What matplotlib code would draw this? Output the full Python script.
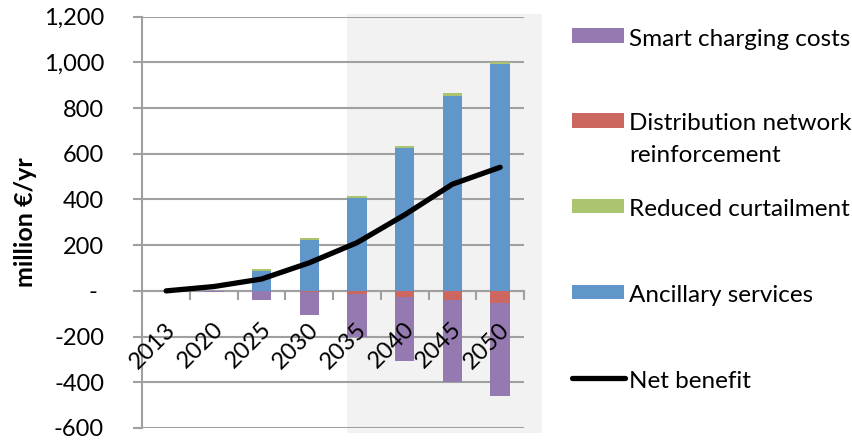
import matplotlib
matplotlib.use('Agg')
import matplotlib.pyplot as plt
import matplotlib.transforms as mtransforms
from matplotlib.patches import Rectangle
from matplotlib.lines import Line2D
import numpy as np

plt.rcParams['font.family'] = ['Lato', 'DejaVu Sans']

# data (million EUR / yr)
years = ['2013', '2020', '2025', '2030', '2035', '2040', '2045', '2050']
ancillary = [0, 0, 88, 224, 408, 627, 855, 995]
curtailment = [0, 0, 6, 7, 7, 9, 11, 8]
distribution = [0, 0, -2, -6, -15, -28, -39, -55]
smart_charging = [0, -5, -40, -99, -186, -278, -358, -406]
net_benefit = [0, 19, 52, 123, 211, 333, 467, 541]

yticks = [-600, -400, -200, 0, 200, 400, 600, 800, 1000, 1200]
ytick_labels = ['-600', '-400', '-200', '- ', '200', '400', '600', '800', '1,000', '1,200']

c_blue = '#6096c9'
c_green = '#abc46f'
c_red = '#cc6661'
c_purple = '#957ab1'
grid_c = '#a0a0a0'
fs = 17

fig = plt.figure(figsize=(8.53, 4.43), dpi=100)
ax = fig.add_axes([0.1668, 0.0339, 0.4475, 0.9284])

x = np.arange(len(years))
w = 0.41

# shaded region behind the later years
trans = mtransforms.blended_transform_factory(ax.transData, ax.transAxes)
ax.add_patch(Rectangle((3.79, -0.012), 4.09, 1.019, transform=trans,
                       facecolor='#f2f2f2', edgecolor='none', clip_on=False, zorder=0.1))

ax.bar(x, ancillary, w, color=c_blue, zorder=2)
ax.bar(x, curtailment, w, bottom=ancillary, color=c_green, zorder=2)
ax.bar(x, distribution, w, color=c_red, zorder=2)
ax.bar(x, smart_charging, w, bottom=distribution, color=c_purple, zorder=2)
ax.plot(x, net_benefit, color='black', lw=3.8, solid_capstyle='round',
        solid_joinstyle='round', zorder=3)

ax.set_xlim(-0.5, len(years) - 0.5)
ax.set_ylim(-600, 1200)
ax.set_yticks(yticks)
ax.set_yticklabels(ytick_labels, fontsize=fs)
ax.set_axisbelow(True)
ax.yaxis.grid(True, color=grid_c, lw=1.5, zorder=0.5)

for s in ['top', 'right']:
    ax.spines[s].set_visible(False)
ax.spines['left'].set_color(grid_c)
ax.spines['left'].set_linewidth(1.5)
ax.spines['bottom'].set_position(('data', 0))
ax.spines['bottom'].set_color(grid_c)
ax.spines['bottom'].set_linewidth(1.5)
ax.spines['bottom'].set_zorder(1)

ax.set_xticks(np.arange(-0.5, len(years), 1))
ax.tick_params(axis='x', direction='out', length=6.5, width=1.5, color=grid_c,
               labelbottom=False)
ax.tick_params(axis='y', direction='out', length=6.5, width=1.5, color=grid_c,
               pad=21, labelcolor='black')

# year labels sitting under the zero line, rotated
for i, yr in enumerate(years):
    ax.text(i - 0.03, -122, yr, rotation=45, ha='right', va='top',
            rotation_mode='anchor', fontsize=fs, zorder=4)

ax.set_ylabel('million €/yr', fontsize=18, fontweight='bold')
ax.yaxis.set_label_coords(-0.276, 0.5)

# legend drawn by hand so the handles line up with the first text line
H = 443.0
Wd = 853.0
def fy(px):
    return 1 - px / H

legend_items = [
    ('patch', c_purple, 'Smart charging costs', 28.3, 46.5),
    ('patch', c_red, 'Distribution network\nreinforcement', 113.3, 130.5),
    ('patch', c_green, 'Reduced curtailment', 199.0, 216.5),
    ('patch', c_blue, 'Ancillary services', 285.0, 302.5),
    ('line', 'black', 'Net benefit', 378.3, 388.5),
]
for kind, col, label, ypx, base in legend_items:
    if kind == 'patch':
        fig.add_artist(Rectangle((572 / Wd, fy(ypx + 14.4)), 52 / Wd, 14.4 / H,
                                 transform=fig.transFigure, facecolor=col,
                                 edgecolor='none'))
    else:
        fig.add_artist(Line2D([572 / Wd, 625 / Wd], [fy(ypx), fy(ypx)],
                              transform=fig.transFigure, color=col, lw=3.8,
                              solid_capstyle='round'))
    for k, line in enumerate(label.split('\n')):
        fig.text(629 / Wd, fy(base + 32 * k), line, fontsize=17.5,
                 va='baseline', ha='left')

fig.savefig('out.png', dpi=100)
